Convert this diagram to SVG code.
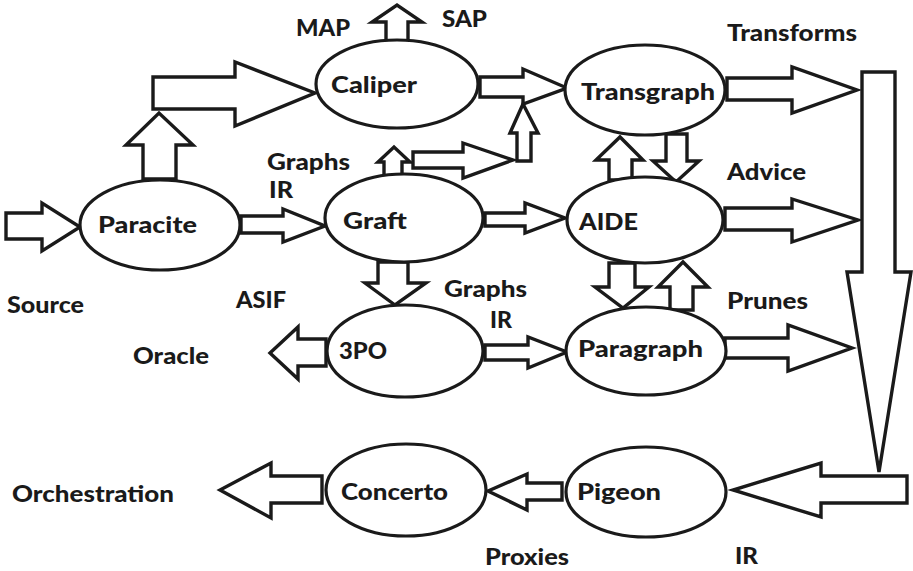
<svg xmlns="http://www.w3.org/2000/svg" width="913" height="571" viewBox="0 0 913 571">
<style>
.n{fill:#fff;stroke:#1a1a1a;stroke-width:3.2}
.a{fill:#fff;stroke:#1a1a1a;stroke-width:3.4;stroke-linejoin:miter}
text{font-family:Lato,"Open Sans","DejaVu Sans",sans-serif;font-weight:900;font-size:23px;fill:#1a1a1a}
</style>
<rect width="913" height="571" fill="#fff"/>
<g id="connectors">
<polygon class="a" points="6,213 42,213 42,203 80,227 42,251 42,239 6,239"/>
<polygon class="a" points="143,179 143,145 126,145 159,113 193,145 176,145 176,179"/>
<polygon class="a" points="153,77 235,77 235,62 315,93 235,126 235,109 153,109"/>
<polygon class="a" points="241,216 283,216 283,209 325,226 283,242 283,233 241,233"/>
<polygon class="a" points="386,41 386,22 372,22 397,5 422,22 408,22 408,41"/>
<polygon class="a" points="480,77 523,77 523,69 567,88 523,104 523,97 480,97"/>
<polygon class="a" points="384,176 384,162 378,162 394,147 410,162 402,162 402,176"/>
<polygon class="a" points="413,152 463,152 463,143 513,160 463,178 463,168 413,168"/>
<polygon class="a" points="517,161 517,133 510,133 523,104 538,133 531,133 531,161"/>
<polygon class="a" points="485,213 525,213 525,203 565,218 525,233 525,226 485,226"/>
<polygon class="a" points="378,262 378,283 365,283 395,305 426,283 408,283 408,262"/>
<polygon class="a" points="326,339 298,339 298,327 270,353 298,379 298,366 326,366"/>
<polygon class="a" points="485,345 528,345 528,337 567,352 528,368 528,360 485,360"/>
<polygon class="a" points="666,134 666,161 653,161 676,182 699,161 687,161 687,134"/>
<polygon class="a" points="609,180 609,160 596,160 620,137 643,160 632,160 632,180"/>
<polygon class="a" points="609,263 609,287 595,287 623,308 649,287 635,287 635,263"/>
<polygon class="a" points="670,310 670,287 658,287 683,262 708,287 693,287 693,310"/>
<polygon class="a" points="727,78 792,78 792,67 857,90 792,113 792,100 727,100"/>
<polygon class="a" points="725,208 792,208 792,199 858,220 792,242 792,230 725,230"/>
<polygon class="a" points="725,338 788,338 788,325 852,348 788,371 788,358 725,358"/>
<polygon class="a" points="862,72 895,72 895,272 911,272 879,472 847,272 862,272"/>
<polygon class="a" points="907,476 821,476 821,463 733,490 821,517 821,503 907,503"/>
<polygon class="a" points="562,483 527,483 527,474 488,491 527,510 527,500 562,500"/>
<polygon class="a" points="322,476 271,476 271,463 220,490 271,518 271,503 322,503"/>
</g>
<g id="node-paracite"><ellipse class="n" cx="160" cy="225" rx="80" ry="45"/><text x="98" y="233" textLength="99" lengthAdjust="spacingAndGlyphs">Paracite</text></g>
<g id="node-caliper"><ellipse class="n" cx="397" cy="84" rx="81" ry="44"/><text x="331" y="93" textLength="86" lengthAdjust="spacingAndGlyphs">Caliper</text></g>
<g id="node-graft"><ellipse class="n" cx="404" cy="218" rx="79" ry="44"/><text x="343" y="229" textLength="64" lengthAdjust="spacingAndGlyphs">Graft</text></g>
<g id="node-transgraph"><ellipse class="n" cx="645" cy="90" rx="80" ry="45"/><text x="581" y="100" textLength="134" lengthAdjust="spacingAndGlyphs">Transgraph</text></g>
<g id="node-aide"><ellipse class="n" cx="645" cy="220" rx="78" ry="43"/><text x="579" y="230" textLength="59" lengthAdjust="spacingAndGlyphs">AIDE</text></g>
<g id="node-3po"><ellipse class="n" cx="405" cy="351" rx="78" ry="46"/><text x="339" y="359" textLength="48" lengthAdjust="spacingAndGlyphs">3PO</text></g>
<g id="node-paragraph"><ellipse class="n" cx="646" cy="351" rx="80" ry="44"/><text x="578" y="357" textLength="125" lengthAdjust="spacingAndGlyphs">Paragraph</text></g>
<g id="node-concerto"><ellipse class="n" cx="406" cy="490" rx="80" ry="46"/><text x="341" y="500" textLength="107" lengthAdjust="spacingAndGlyphs">Concerto</text></g>
<g id="node-pigeon"><ellipse class="n" cx="646" cy="492" rx="80" ry="45"/><text x="577" y="500" textLength="84" lengthAdjust="spacingAndGlyphs">Pigeon</text></g>
<g id="labels">
<text x="296" y="36" textLength="54" lengthAdjust="spacingAndGlyphs">MAP</text>
<text x="442" y="27" textLength="45" lengthAdjust="spacingAndGlyphs">SAP</text>
<text x="727" y="41" textLength="130" lengthAdjust="spacingAndGlyphs">Transforms</text>
<text x="267" y="170" textLength="83" lengthAdjust="spacingAndGlyphs">Graphs</text>
<text x="269" y="198" textLength="24" lengthAdjust="spacingAndGlyphs">IR</text>
<text x="727" y="180" textLength="79" lengthAdjust="spacingAndGlyphs">Advice</text>
<text x="7" y="313" textLength="77" lengthAdjust="spacingAndGlyphs">Source</text>
<text x="236" y="308" textLength="50" lengthAdjust="spacingAndGlyphs">ASIF</text>
<text x="444" y="297" textLength="83" lengthAdjust="spacingAndGlyphs">Graphs</text>
<text x="490" y="328" textLength="22" lengthAdjust="spacingAndGlyphs">IR</text>
<text x="727" y="309" textLength="81" lengthAdjust="spacingAndGlyphs">Prunes</text>
<text x="133" y="364" textLength="76" lengthAdjust="spacingAndGlyphs">Oracle</text>
<text x="12" y="502" textLength="162" lengthAdjust="spacingAndGlyphs">Orchestration</text>
<text x="485" y="565" textLength="84" lengthAdjust="spacingAndGlyphs">Proxies</text>
<text x="735" y="564" textLength="23" lengthAdjust="spacingAndGlyphs">IR</text>
</g>
</svg>
